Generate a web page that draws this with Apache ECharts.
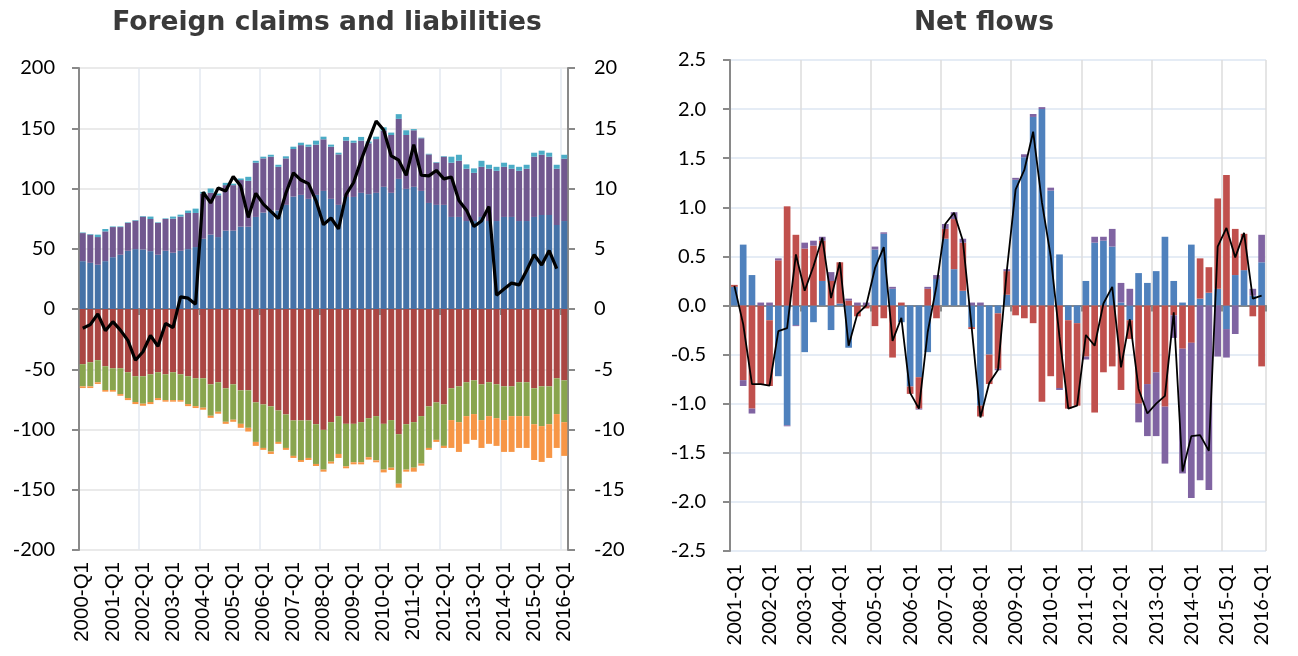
<!DOCTYPE html>
<html>
<head>
<meta charset="utf-8">
<script src="https://cdn.jsdelivr.net/npm/echarts@6/dist/echarts.min.js"></script>
<style>html,body{margin:0;padding:0;background:#fff}#c{width:1298px;height:656px}</style>
</head>
<body>
<div id="c"></div>
<script>
const leftCategories = ["2000-Q1","2000-Q2","2000-Q3","2000-Q4","2001-Q1","2001-Q2","2001-Q3","2001-Q4","2002-Q1","2002-Q2","2002-Q3","2002-Q4","2003-Q1","2003-Q2","2003-Q3","2003-Q4","2004-Q1","2004-Q2","2004-Q3","2004-Q4","2005-Q1","2005-Q2","2005-Q3","2005-Q4","2006-Q1","2006-Q2","2006-Q3","2006-Q4","2007-Q1","2007-Q2","2007-Q3","2007-Q4","2008-Q1","2008-Q2","2008-Q3","2008-Q4","2009-Q1","2009-Q2","2009-Q3","2009-Q4","2010-Q1","2010-Q2","2010-Q3","2010-Q4","2011-Q1","2011-Q2","2011-Q3","2011-Q4","2012-Q1","2012-Q2","2012-Q3","2012-Q4","2013-Q1","2013-Q2","2013-Q3","2013-Q4","2014-Q1","2014-Q2","2014-Q3","2014-Q4","2015-Q1","2015-Q2","2015-Q3","2015-Q4","2016-Q1"];

const leftBlue = [39.7,38.3,36.7,39.7,43,45,48.3,49.7,49.4,48,45,48.3,46.7,48.3,49.7,51.4,58.3,61.7,59.7,65,65,68.3,68.3,76.4,80,81.7,81.7,86.4,93.3,94.7,91.4,94.7,98,91.4,86.4,93,93,96.4,95.3,96.4,101.4,96.4,108,99.7,101.4,98,88,86.4,86.4,76.4,76.4,73,73,76.4,73,73,76.4,76.4,73,73,76.4,78,78,69.7,73];
const leftPurple = [23.3,23.4,23,24.7,25,23,23.1,23.6,27.3,26.7,26.4,26.4,28.3,28.4,30,28.3,37.5,34.7,34.7,37.8,37.8,38.7,38.1,45,45,44.7,36.3,38.6,39.5,41.3,43.3,41.7,42.8,43.3,41.9,46.7,45,43.3,42.2,44.6,46.6,48,49.8,44.7,46.9,43.7,40.3,35,40,45,46.6,43.4,40,41.6,43.4,41.7,41.6,40,41.7,43.4,50,50,48.4,46.7,51.7];
const leftTeal = [0.5,0.5,2,2,0.5,0.5,0.5,0.5,0.5,2,0.5,0.5,1.7,1.6,2,3.6,1.4,3.6,1.4,1.9,1.2,1.3,3.3,1.6,1.4,1.6,1.7,1.7,1.9,2,1.7,3.3,2.2,1.7,1.4,3.1,1.7,3.1,1.5,2,2.8,2,3.9,3.9,1,0.5,0.5,0.5,0.5,5,5,3.6,3.7,5,3.3,3.3,3.4,3.3,3.3,3.3,3.3,3.4,3.3,3.3,3.3];
const leftRed = [-45.8,-44.2,-42.5,-47.5,-49.2,-49.2,-52.5,-55.8,-55.8,-54.2,-52.5,-54.2,-52.5,-54.2,-55.8,-57.5,-57.5,-62.5,-60.8,-65.8,-62.5,-67.5,-67.5,-77.5,-79.2,-80.8,-84.2,-87.5,-92.5,-92.5,-92.5,-95.6,-100.3,-93.9,-88.9,-95.3,-95.3,-93.9,-90.6,-88.9,-95.3,-92.2,-103.9,-95.6,-93.9,-88.9,-80.8,-77.5,-79.2,-65.8,-64.2,-60.8,-59.2,-62.5,-60.8,-62.5,-64.2,-64.2,-60.8,-60.8,-65.8,-64.2,-64.2,-57.5,-59.2];
const leftGreen = [-18.4,-20,-18.3,-19.7,-18,-21.4,-21.4,-21.4,-22.8,-23,-21.4,-21.4,-23.1,-21.4,-23.1,-23.1,-24.4,-26.1,-24.5,-27.8,-29.4,-27.8,-31.1,-32.8,-36.1,-37.5,-26.1,-27.8,-29.4,-32.8,-31.1,-33,-33,-32.8,-31.4,-35.3,-31.9,-33.3,-32.4,-36.7,-38,-39.5,-41.1,-37.7,-37.8,-39.4,-34.5,-31.1,-34.4,-26.4,-29.7,-28.1,-28,-29.7,-28.1,-28.1,-28,-24.7,-28.1,-28.1,-29.8,-33,-31.4,-29.7,-34.7];
const leftOrange = [-1.4,-1.4,-1.4,-1.4,-1.4,-1.4,-1.7,-1.7,-1.7,-1.7,-1.7,-1.3,-1.3,-1.3,-1.7,-1.6,-1.7,-1.7,-1.6,-1.7,-1.7,-3.3,-3.1,-3.3,-1.6,-2,-1.6,-1.6,-1.7,-1.6,-1.7,-1.7,-1.7,-1.6,-3.3,-1.6,-1.7,-1.7,-2,-1.6,-2.3,-1.9,-3.3,-1.7,-3.3,-1.7,-1.6,-1.7,-1.7,-23.1,-24.7,-23,-21.4,-23.1,-23,-23,-26.4,-29.7,-26.4,-26.4,-29.7,-29.7,-28,-28.1,-28];
const leftLine = [-1.6,-1.3,-0.4,-1.8,-1.05,-1.75,-2.6,-4.25,-3.55,-2.2,-3.1,-1.2,-1.55,1.0,0.9,0.4,9.7,8.8,10.05,9.8,11.0,10.2,7.6,9.6,8.7,8.1,7.5,9.6,11.3,10.7,10.4,9.0,7.0,7.55,6.65,9.5,10.5,12.35,14.0,15.6,14.85,12.7,12.35,11.1,13.65,11.1,11.05,11.5,10.8,10.95,9.0,8.2,6.85,7.3,8.5,1.15,1.65,2.15,2.0,3.2,4.5,3.65,4.85,3.35,null];

const rightCategories = ["2001-Q1","2001-Q2","2001-Q3","2001-Q4","2002-Q1","2002-Q2","2002-Q3","2002-Q4","2003-Q1","2003-Q2","2003-Q3","2003-Q4","2004-Q1","2004-Q2","2004-Q3","2004-Q4","2005-Q1","2005-Q2","2005-Q3","2005-Q4","2006-Q1","2006-Q2","2006-Q3","2006-Q4","2007-Q1","2007-Q2","2007-Q3","2007-Q4","2008-Q1","2008-Q2","2008-Q3","2008-Q4","2009-Q1","2009-Q2","2009-Q3","2009-Q4","2010-Q1","2010-Q2","2010-Q3","2010-Q4","2011-Q1","2011-Q2","2011-Q3","2011-Q4","2012-Q1","2012-Q2","2012-Q3","2012-Q4","2013-Q1","2013-Q2","2013-Q3","2013-Q4","2014-Q1","2014-Q2","2014-Q3","2014-Q4","2015-Q1","2015-Q2","2015-Q3","2015-Q4","2016-Q1"];

const rightBlue = [0.19,0.62,0.31,0,-0.15,-0.72,-1.22,-0.2,-0.475,-0.17,0.25,-0.25,0.02,-0.43,0,0,0.57,0.73,0.17,-0.17,-0.825,-0.73,-0.475,0.27,0.68,0.37,0.15,-0.22,-1.02,-0.5,-0.08,0.11,1.28,1.51,1.92,2.0,1.17,0.52,-0.15,-0.18,0.25,0.64,0.66,0.6,0.03,-0.15,0.33,0.23,0.35,0.7,0.25,0.03,0.62,0.07,0.13,0.17,-0.24,0.31,0.36,0.1,0.44];
const rightRed = [0.02,-0.76,-1.05,-0.8,-0.67,0.46,1.01,0.72,0.58,0.61,0.41,0.25,0.42,0.05,-0.11,-0.03,-0.21,-0.13,-0.53,0.03,-0.075,-0.32,0.17,-0.13,0.1,0.51,0.49,-0.02,-0.11,-0.3,-0.565,0.24,-0.1,-0.13,-0.18,-0.98,-0.72,-0.84,-0.9,-0.84,-0.52,-1.09,-0.68,-0.62,-0.86,-0.19,-1.0,-0.8,-0.68,-1.03,-0.1,-0.44,-0.38,0.41,0.26,0.92,1.33,0.47,0.37,-0.11,-0.62];
const rightPurple = [0,-0.06,-0.05,0.03,0.03,0.02,-0.01,-0.01,0.06,0.05,0.04,0.09,0,0.02,0.03,0.03,0.03,0.015,0.02,0,0,-0.01,0.02,0.04,0.05,0.07,0.04,0.03,0.03,0,-0.015,0.02,0.02,0.03,0.03,0.02,0.03,-0.02,0,0,-0.03,0.06,0.04,0.18,0.2,0.17,-0.19,-0.53,-0.65,-0.58,-0.23,-1.27,-1.58,-1.78,-1.88,-0.52,-0.29,-0.29,0,0.07,0.28];
const rightLine = [0.2,-0.19,-0.8,-0.8,-0.815,-0.26,-0.23,0.52,0.15,0.4,0.69,0.075,0.44,-0.41,-0.085,0.0,0.38,0.595,-0.36,-0.125,-0.89,-1.05,-0.27,0.2,0.83,0.945,0.66,-0.22,-1.14,-0.79,-0.655,0.35,1.18,1.38,1.77,1.05,0.5,-0.32,-1.05,-1.02,-0.3,-0.41,0.02,0.19,-0.63,-0.14,-0.85,-1.1,-1.0,-0.92,-0.07,-1.69,-1.33,-1.32,-1.48,0.6,0.79,0.49,0.74,0.07,0.1];

const chart = echarts.init(document.getElementById('c'), null, {renderer: 'canvas'});
const axisGrey = '#898989';
const titleStyle = {fontFamily: 'DejaVu Sans', fontWeight: 'bold', fontSize: 26.5, color: '#3A3A3A'};

function bar(name, data, color, xi, yi, stack, gap) {
  return {name, type: 'bar', data, xAxisIndex: xi, yAxisIndex: yi, stack,
    barCategoryGap: gap, itemStyle: {color}, emphasis: {disabled: true}};
}

const option = {
  animation: false,
  backgroundColor: '#fff',
  title: [
    {text: 'Foreign claims and liabilities', left: 322, top: 5, textAlign: 'center', textStyle: titleStyle},
    {text: 'Net flows', left: 979, top: 5, textAlign: 'center', textStyle: titleStyle}
  ],
  grid: [
    {left: 79, top: 68, width: 489, height: 482, containLabel: false},
    {left: 730, top: 60, width: 536, height: 491, containLabel: false}
  ],
  xAxis: [
    {gridIndex: 0, type: 'category', data: leftCategories, boundaryGap: true, position: 'bottom',
     axisLine: {show: false, onZero: false}, axisTick: {show: false},
     axisLabel: {interval: 3, rotate: 90, margin: 12, fontFamily: 'Liberation Sans', fontSize: 20.5, color: '#000'},
     splitLine: {show: true, interval: 7, lineStyle: {color: '#E3E9F1', width: 1.5}}},
    {gridIndex: 0, type: 'category', data: leftCategories, boundaryGap: true, position: 'bottom',
     axisLine: {show: true, onZero: true, lineStyle: {color: axisGrey, width: 2}},
     axisTick: {show: true, interval: 7, length: 6, lineStyle: {color: axisGrey, width: 2}},
     axisLabel: {show: false}, splitLine: {show: false}},
    {gridIndex: 1, type: 'category', data: rightCategories, boundaryGap: true, position: 'bottom',
     axisLine: {show: false, onZero: false}, axisTick: {show: false},
     axisLabel: {interval: 3, rotate: 90, margin: 13, fontFamily: 'Lato', fontSize: 20, color: '#000'},
     splitLine: {show: true, interval: 7, lineStyle: {color: '#DCDCDC', width: 1.5}}},
    {gridIndex: 1, type: 'category', data: rightCategories, boundaryGap: true, position: 'bottom',
     axisLine: {show: true, onZero: true, lineStyle: {color: axisGrey, width: 2}},
     axisTick: {show: true, interval: 7, length: 6, lineStyle: {color: axisGrey, width: 2}},
     axisLabel: {show: false}, splitLine: {show: false}}
  ],
  yAxis: [
    {gridIndex: 0, type: 'value', min: -200, max: 200, interval: 50, position: 'left',
     axisLine: {show: true, onZero: false, lineStyle: {color: axisGrey, width: 2}},
     axisTick: {show: true, length: 7, lineStyle: {color: axisGrey, width: 2}},
     axisLabel: {margin: 24, fontFamily: 'Lato', fontSize: 20, color: '#000'},
     splitLine: {show: true, lineStyle: {color: '#E3E3E3', width: 1.5}}},
    {gridIndex: 0, type: 'value', min: -20, max: 20, interval: 5, position: 'right',
     axisLine: {show: true, onZero: false, lineStyle: {color: axisGrey, width: 2}},
     axisTick: {show: true, length: 7, lineStyle: {color: axisGrey, width: 2}},
     axisLabel: {margin: 26, fontFamily: 'Lato', fontSize: 20, color: '#000'},
     splitLine: {show: false}},
    {gridIndex: 1, type: 'value', min: -2.5, max: 2.5, interval: 0.5, position: 'left',
     axisLine: {show: true, onZero: false, lineStyle: {color: axisGrey, width: 2}},
     axisTick: {show: true, length: 7, lineStyle: {color: axisGrey, width: 2}},
     axisLabel: {margin: 24, fontFamily: 'Lato', fontSize: 20, color: '#000', formatter: v => v.toFixed(1)},
     splitLine: {show: true, lineStyle: {color: '#DCE6F2', width: 1.5}}}
  ],
  series: [
    bar('Blue', leftBlue, '#4572A7', 0, 0, 'L', '20%'),
    bar('Red', leftRed, '#AA4643', 0, 0, 'L', '20%'),
    bar('Purple', leftPurple, '#71588F', 0, 0, 'L', '20%'),
    bar('Green', leftGreen, '#89A54E', 0, 0, 'L', '20%'),
    bar('Teal', leftTeal, '#4BACC6', 0, 0, 'L', '20%'),
    bar('Orange', leftOrange, '#F79646', 0, 0, 'L', '20%'),
    {name: 'Net', type: 'line', data: leftLine, xAxisIndex: 0, yAxisIndex: 1, symbol: 'none', z: 5,
     lineStyle: {color: '#000', width: 3.2}, connectNulls: false},
    bar('RBlue', rightBlue, '#4F81BD', 2, 2, 'R', '24%'),
    bar('RRed', rightRed, '#C0504D', 2, 2, 'R', '24%'),
    bar('RPurple', rightPurple, '#8064A2', 2, 2, 'R', '24%'),
    {name: 'RNet', type: 'line', data: rightLine, xAxisIndex: 2, yAxisIndex: 2, symbol: 'none', z: 5,
     lineStyle: {color: '#000', width: 1.8}}
  ]
};
chart.setOption(option);
</script>
</body>
</html>
